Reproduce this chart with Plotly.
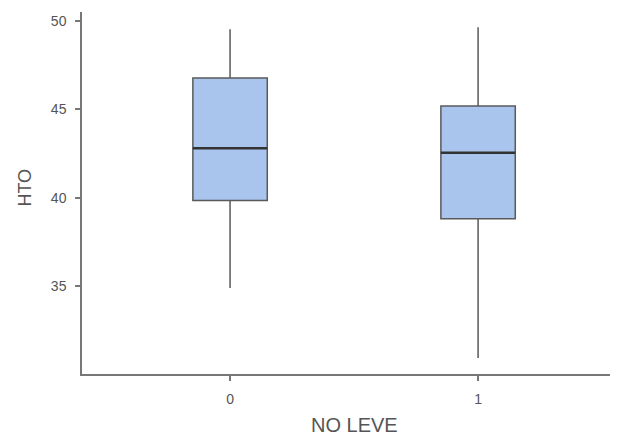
import plotly.graph_objects as go

groups = ["0", "1"]
x_pos = [0, 1]
mins = [34.91, 30.96]
q1s = [39.85, 38.82]
medians = [42.80, 42.54]
q3s = [46.77, 45.19]
maxs = [49.51, 49.63]

fill = "#a9c5ed"
edge = "#5a5a5a"
box_w = 0.3

fig = go.Figure()
fig.add_trace(go.Box(
    x=x_pos, q1=q1s, median=medians, q3=q3s,
    lowerfence=mins, upperfence=maxs,
    fillcolor=fill, line=dict(color=edge, width=1.5),
    width=box_w, whiskerwidth=0, showlegend=False, hoverinfo="skip",
))
# emphasise medians
for xi, m in zip(x_pos, medians):
    fig.add_trace(go.Scatter(
        x=[xi - box_w / 2, xi + box_w / 2], y=[m, m], mode="lines",
        line=dict(color="#333333", width=2.5), showlegend=False, hoverinfo="skip",
    ))

axis_col = "#777777"
txt_col = "#555555"

fig.update_layout(
    width=610, height=432,
    margin=dict(l=74, r=5, t=4, b=66),
    paper_bgcolor="white", plot_bgcolor="white",
    font=dict(family="Liberation Sans, Arial, sans-serif", color=txt_col),
    xaxis=dict(
        range=[-0.597, 1.544], tickvals=x_pos, ticktext=groups,
        showline=True, linecolor=axis_col, linewidth=1.5,
        ticks="outside", ticklen=5, tickcolor=axis_col, tickwidth=1.5,
        ticklabelstandoff=6,
        showgrid=False, zeroline=False,
        tickfont=dict(size=14, color=txt_col),
    ),
    yaxis=dict(
        range=[30.06, 50.49], tickvals=[35, 40, 45, 50],
        showline=True, linecolor=axis_col, linewidth=1.5,
        ticks="outside", ticklen=5, tickcolor=axis_col, tickwidth=1.5,
        ticklabelstandoff=6,
        showgrid=False, zeroline=False,
        tickfont=dict(size=14, color=txt_col),
    ),
    annotations=[
        dict(text="NO LEVE", xref="paper", yref="paper", x=0.513, y=0,
             xanchor="center", yanchor="middle", yshift=-51, showarrow=False,
             font=dict(size=20, color=txt_col)),
        dict(text="HTO", xref="paper", yref="paper", x=0, y=0.515,
             xanchor="center", yanchor="middle", xshift=-57, textangle=-90,
             showarrow=False, font=dict(size=18, color=txt_col)),
    ],
)

fig.write_html("out.html")
